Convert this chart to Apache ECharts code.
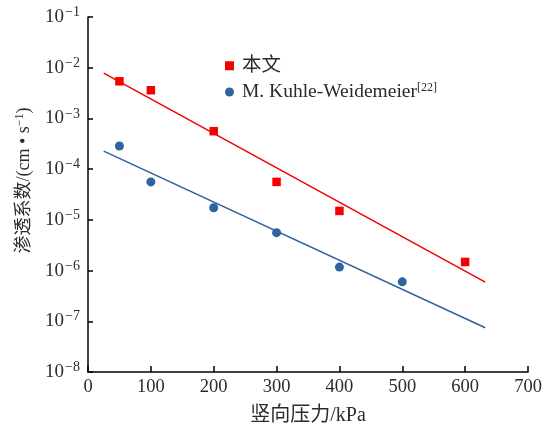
<!DOCTYPE html>
<html>
<head>
<meta charset="utf-8">
<script src="https://cdn.jsdelivr.net/npm/echarts@6/dist/echarts.min.js"></script>
<style>
  html, body { margin: 0; padding: 0; background: #fff; }
  #chart { width: 549px; height: 425px; }
</style>
</head>
<body>
<div id="chart"></div>
<script>
// Measured points: vertical pressure (kPa) vs permeability coefficient (cm/s)
const thisWorkPressure = [50, 100, 200, 300, 400, 600];
const thisWorkK = [5.4e-3, 3.6e-3, 5.6e-4, 5.6e-5, 1.5e-5, 1.48e-6];

const kuhlePressure = [50, 100, 200, 300, 400, 500];
const kuhleK = [2.86e-4, 5.6e-5, 1.73e-5, 5.6e-6, 1.17e-6, 6.0e-7];

// Fitted trend lines (end points)
const thisWorkFitX = [25, 632];
const thisWorkFitK = [7.85e-3, 5.9e-7];
const kuhleFitX = [25, 632];
const kuhleFitK = [2.27e-4, 7.45e-8];

const xTicks = [0, 100, 200, 300, 400, 500, 600, 700];
const yExponents = [-8, -7, -6, -5, -4, -3, -2, -1];

const legendNames = ['本文', 'M. Kuhle-Weidemeier'];
const legendRefs = ['', '[22]'];

const RED = '#f50000';
const BLUE = '#2f63a0';
const TEXT = '#2b2b2b';
const FONT = '"Liberation Serif", "Noto Sans CJK SC", serif';

const pairs = (xs, ys) => xs.map((x, i) => [x, ys[i]]);

const chart = echarts.init(document.getElementById('chart'), null, { renderer: 'canvas' });

chart.setOption({
  backgroundColor: '#ffffff',
  animation: false,
  textStyle: { fontFamily: FONT, color: TEXT },
  grid: { left: 88, right: 21, top: 17, bottom: 53, containLabel: false, outerBoundsMode: 'none' },
  legend: {
    left: 220,
    top: 51,
    orient: 'vertical',
    itemGap: 6,
    itemWidth: 9,
    itemHeight: 9,
    data: [
      { name: legendNames[0], icon: 'rect' },
      { name: legendNames[1], icon: 'circle' }
    ],
    formatter: function (name) {
      const i = legendNames.indexOf(name);
      return legendRefs[i] ? '{t|' + name + '}{s|' + legendRefs[i] + '}' : '{t|' + name + '}';
    },
    textStyle: {
      fontFamily: FONT,
      color: TEXT,
      rich: {
        t: { fontFamily: FONT, fontSize: 19.5, color: TEXT, padding: [0, 0, 0, 3] },
        s: { fontFamily: FONT, fontSize: 12, color: TEXT, verticalAlign: 'top', padding: [0, 0, 9, 0] }
      }
    }
  },
  xAxis: {
    type: 'value',
    min: 0,
    max: 700,
    interval: 100,
    name: '竖向压力/kPa',
    nameLocation: 'middle',
    nameGap: 34,
    nameTextStyle: { fontFamily: FONT, fontSize: 20, color: TEXT },
    axisLine: { show: true, lineStyle: { color: '#000', width: 1.5 } },
    axisTick: { show: true, inside: true, length: 6, lineStyle: { color: '#000', width: 1.5 } },
    axisLabel: {
      fontFamily: FONT, fontSize: 18.5, color: TEXT, margin: 6,
      formatter: v => (xTicks.indexOf(v) >= 0 ? String(v) : '')
    },
    splitLine: { show: false }
  },
  yAxis: {
    type: 'log',
    logBase: 10,
    min: 1e-8,
    max: 1e-1,
    name: '{t|渗透系数/(cm • s}{s|−1}{t|)}',
    nameLocation: 'middle',
    nameRotate: 90,
    nameGap: 54,
    nameTextStyle: {
      fontFamily: FONT,
      color: TEXT,
      padding: [0, 0, 0, 28],
      rich: {
        t: { fontFamily: FONT, fontSize: 18, color: TEXT },
        s: { fontFamily: FONT, fontSize: 12, color: TEXT, verticalAlign: 'top', padding: [0, 0, 8, 0] }
      }
    },
    axisLine: { show: true, lineStyle: { color: '#000', width: 1.5 } },
    axisTick: { show: true, inside: true, length: 5, lineStyle: { color: '#000', width: 1.5 } },
    axisLabel: {
      margin: 8,
      formatter: function (v) {
        const e = Math.round(Math.log10(v));
        if (yExponents.indexOf(e) < 0) return '';
        return '{b|10}{s|−' + Math.abs(e) + '}';
      },
      rich: {
        b: { fontFamily: FONT, fontSize: 19, color: TEXT },
        s: { fontFamily: FONT, fontSize: 14, color: TEXT, verticalAlign: 'top', padding: [0, 0, 9, 1] }
      }
    },
    splitLine: { show: false }
  },
  series: [
    {
      name: legendNames[0],
      type: 'scatter',
      symbol: 'rect',
      symbolSize: 8.5,
      itemStyle: { color: RED, opacity: 1 },
      data: pairs(thisWorkPressure, thisWorkK),
      z: 3
    },
    {
      name: legendNames[1],
      type: 'scatter',
      symbol: 'circle',
      symbolSize: 9,
      itemStyle: { color: BLUE, opacity: 1 },
      data: pairs(kuhlePressure, kuhleK),
      z: 3
    },
    {
      name: 'fit-1',
      type: 'line',
      showSymbol: false,
      symbol: 'none',
      silent: true,
      lineStyle: { color: RED, width: 1.5 },
      data: pairs(thisWorkFitX, thisWorkFitK),
      z: 2
    },
    {
      name: 'fit-2',
      type: 'line',
      showSymbol: false,
      symbol: 'none',
      silent: true,
      lineStyle: { color: BLUE, width: 1.5 },
      data: pairs(kuhleFitX, kuhleFitK),
      z: 2
    }
  ]
});
</script>
</body>
</html>
